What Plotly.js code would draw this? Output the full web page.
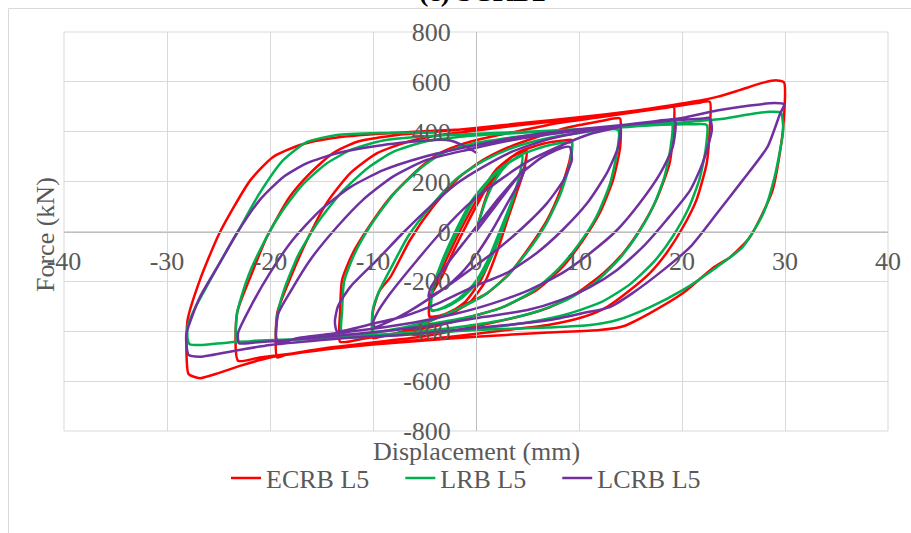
<!DOCTYPE html>
<html>
<head>
<meta charset="utf-8">
<script src="https://cdn.plot.ly/plotly-3.0.1.min.js"></script>
<style>html,body{margin:0;padding:0;background:#fff;}#chart{width:911px;height:533px;}</style>
</head>
<body>
<div id="chart"></div>
<script>
// ---- data (displacement mm, force kN) ----
const seriesNames = ['ECRB L5', 'LRB L5', 'LCRB L5'];

const ecrbPts = [
  [0,0],[1,140],[2,230],[3,285],[4,310],[4.9,320],
  [4.7,260],[3.9,150],[3.0,40],[2.0,-86],[0.9,-200],[-0.5,-280],[-2,-320],[-3.5,-338],[-4.5,-340],
  [-4.4,-260],[-3.5,-170],[-2.4,-70],[-1.2,30],[0.4,150],[2,250],[3.5,300],[4.9,325],
  [4.7,255],[3.8,140],[2.6,20],[1.6,-90],[0.4,-200],[-1,-280],[-2.6,-325],[-4.5,-342],
  [-4.4,-260],[-3.3,-180],[-2.2,-80],[-1.0,20],[0.4,130],[2,240],[4,315],[6.5,352],[8.5,365],[9.3,367],
  [9.1,287],[8.2,166],[6.9,46],[5.2,-62],[3.3,-166],[1.1,-247],[-1.6,-303],[-4.5,-360],[-7,-400],[-9.3,-422],[-10,-427],
  [-10,-320],[-9.4,-240],[-8.3,-182],[-6.4,-34],[-4.2,98],[-1.6,219],[0.7,287],[3,335],[6,380],[9,418],[12,442],[13.8,455],[14,452],
  [14,339],[13.3,206],[12,73],[10.4,-34],[8.4,-142],[5.9,-234],[2.6,-303],[-0.6,-343],[-4,-380],[-8,-410],[-11,-430],[-13.2,-442],
  [-13.2,-330],[-13,-194],[-12,-90],[-10.6,6],[-8.3,138],[-5.7,246],[-3.5,314],[-1,355],[2,385],[5,410],[8,435],[12,458],[16,482],[18.5,496],[19.2,500],
  [19.2,420],[18.8,274],[17.5,126],[15.9,6],[14.3,-86],[12.4,-166],[9.8,-247],[7.2,-303],[4,-343],[0,-380],[-5,-420],[-10,-445],[-15,-470],[-18.5,-495],[-19.3,-505],
  [-19.3,-327],[-18.1,-194],[-16.4,-34],[-14.5,114],[-12.2,234],[-9.6,314],[-6.7,359],[-3.5,387],[0,405],[5,430],[10,452],[15,477],[19,500],[21.5,515],[22.7,520],
  [22.7,420],[22.4,274],[21.4,126],[20.1,18],[18.5,-86],[16.9,-166],[15,-234],[12.7,-303],[10.4,-343],[7,-375],[3,-395],[-2,-420],[-8,-445],[-13,-465],[-18,-490],[-21,-505],[-23.1,-518],
  [-23.2,-327],[-21.9,-182],[-20.3,-22],[-18.1,138],[-16.1,234],[-13.9,314],[-11.6,359],[-8,385],[-4,400],[0,415],[5,437],[10,458],[15,482],[18,500],[21,520],[23.4,540],[25.6,567],[27.9,597],[29.2,606],[29.9,598],
  [29.8,407],[28.8,166],[26.6,-22],[24.7,-102],[23,-146],[20.1,-247],[16.9,-327],[14.3,-380],[12,-395],[7,-405],[0,-422],[-5,-437],[-10,-453],[-15,-475],[-20,-505],[-23,-540],[-25,-568],[-26.8,-588],[-27.9,-572],[-28.1,-500],
  [-28,-355],[-26.8,-194],[-24.9,-6],[-21.9,206],[-19.7,299],[-17.1,347],[-13.9,375],[-10,390],[-5,402],[0,412]
];

const lrbPts = [
  [0,0],[1,130],[2,215],[3,268],[4,298],[4.5,306],
  [4.3,240],[3.5,120],[2.5,0],[1.3,-120],[0,-210],[-1.5,-270],[-3,-305],[-4.3,-315],
  [-4.2,-230],[-3.2,-120],[-1.8,0],[-0.3,120],[1.5,215],[3,270],[4.5,303],
  [4.3,240],[3.5,125],[2.3,0],[1.1,-120],[-0.2,-210],[-1.7,-270],[-3.2,-305],[-4.3,-318],
  [-4.2,-230],[-3.3,-120],[-2,0],[-0.3,130],[2,240],[4.5,310],[7,345],[9.3,355],
  [9.1,270],[8.2,150],[6.8,30],[5,-80],[3,-180],[0.8,-255],[-2,-315],[-5,-365],[-8,-392],[-10,-400],
  [-10,-310],[-9.3,-230],[-8.3,-150],[-6.6,-20],[-4.4,100],[-1.8,215],[0.8,285],[3.5,335],[6.5,370],[10,395],[13.8,407],
  [13.7,320],[13,190],[11.7,60],[10,-50],[8,-150],[5.5,-240],[2.5,-305],[-1,-345],[-5,-375],[-9,-400],[-13,-410],
  [-13,-320],[-12.8,-200],[-11.8,-90],[-10.3,20],[-8,150],[-5.5,250],[-3.2,315],[0,355],[4,380],[8,398],[12,415],[16,428],[19,435],
  [18.9,340],[18.3,220],[17.2,100],[15.7,-10],[13.9,-110],[11.7,-200],[9,-270],[6,-320],[2,-360],[-3,-390],[-8,-410],[-13,-420],[-17,-428],[-19.3,-435],
  [-19.3,-340],[-18.6,-230],[-17.2,-90],[-15.3,40],[-13,160],[-10.5,255],[-8,320],[-5,360],[-1,382],[4,395],[9,407],[14,418],[18,428],[21,430],[22.4,427],
  [22.3,330],[21.7,210],[20.6,90],[19.1,-20],[17.3,-120],[15,-210],[12.3,-280],[9,-330],[5,-365],[0,-390],[-6,-410],[-12,-425],[-18,-433],[-21.5,-438],[-23.2,-442],
  [-23.2,-330],[-22.3,-200],[-20.8,-60],[-19,70],[-16.9,185],[-14.6,270],[-12,330],[-9,365],[-5,382],[0,392],[5,400],[10,410],[15,420],[20,437],[24,452],[26.6,470],[28.5,480],[29.6,477],
  [29.8,434],[29.8,395],[29.0,220],[27.9,73],[25.9,-62],[23.4,-142],[20.1,-234],[16.9,-303],[13.7,-355],[11.1,-375],[7,-385],[0,-395],[-5,-408],[-10,-420],[-15,-430],[-20,-437],[-24,-445],[-26.5,-455],[-27.8,-452],[-28,-430],
  [-28,-380],[-27.2,-300],[-26.5,-247],[-25.1,-142],[-23.2,-6],[-21,154],[-18.7,287],[-16.4,359],[-13.5,387],[-9,395],[-4,397]
];

const lcrbPts = [
  [0,0],[1.2,65],[2.4,130],[3.6,195],[4.8,259],
  [4.3,205],[3,110],[1.5,0],[0,-95],[-1.5,-170],[-3,-225],[-4.2,-255],[-4.6,-262],[-4.4,-225],
  [-3.5,-170],[-2.5,-114],[-1.2,-45],[0,18],[2.3,138],[4.3,230],[6.5,300],[8.3,335],[9.1,339],
  [9.3,287],[8.5,206],[6.9,114],[4.6,18],[2,-74],[-0.6,-154],[-3.5,-240],[-6.5,-320],[-8.5,-362],[-9.8,-383],[-10,-370],
  [-9.6,-327],[-8.3,-247],[-5.7,-114],[-3.2,6],[-0.6,114],[2.3,206],[5,280],[8,340],[11,390],[13.5,415],[14,419],
  [13.8,339],[12.7,234],[10.8,114],[8.4,6],[5.9,-86],[3,-166],[-0.3,-222],[-3.5,-285],[-7,-340],[-10,-370],[-12.5,-395],[-13.5,-401],
  [-13.7,-360],[-13.4,-300],[-12.2,-222],[-9.6,-114],[-7.1,-6],[-4.5,98],[-1.8,194],[0.7,259],[3.5,320],[7,370],[10.5,400],[14,425],[17,440],[19.3,447],
  [19.1,339],[17.9,234],[15.9,114],[13.7,6],[11.1,-86],[8.4,-166],[5.2,-234],[1.7,-287],[-2,-330],[-6,-365],[-10,-390],[-14,-410],[-17,-425],[-19.3,-442],
  [-19.2,-330],[-18.1,-247],[-16.1,-114],[-13.5,18],[-11,126],[-8.1,219],[-4.8,287],[-0.9,327],[4,370],[9,400],[14,425],[19,445],[22,453],[22.7,455],
  [22.9,407],[22,274],[20.8,166],[18.5,46],[16.2,-62],[13.7,-154],[11.1,-222],[8.2,-275],[5,-315],[0.7,-343],[-4,-375],[-9,-400],[-14,-420],[-19,-438],[-21.5,-445],[-23,-448],
  [-23.1,-407],[-21.9,-303],[-20,-166],[-17.8,-34],[-15.1,86],[-12.2,178],[-9,246],[-5.1,299],[-0.9,339],[5,385],[10,410],[15,430],[20,455],[23.4,485],[26.6,505],[29,515],[29.9,510],
  [29.5,470],[28.3,339],[25.9,206],[23.4,73],[20.8,-62],[18.2,-154],[15.2,-247],[13,-303],[10.4,-327],[7.2,-355],[3,-375],[-2,-395],[-7,-415],[-12,-425],[-15,-435],[-20,-455],[-23,-475],[-26.8,-502],[-27.9,-495],[-28.1,-460],
  [-28.1,-407],[-26.8,-263],[-25.1,-142],[-23.2,-6],[-21,126],[-18.7,219],[-16.4,274],[-13.5,314],[-9,347],[-4.2,367],[-2.5,365],[-1,340],[0.1,314]
];

const xTickVals = [-40,-30,-20,-10,0,10,20,30,40];
const xTickText = ['-40','-30','-20','-10','0','10','20','30','40'];
const yTickVals = [-800,-600,-400,-200,0,200,400,600,800];
const yTickText = ['-800','-600','-400','-200','0','200','400','600','800'];

// ---- styling ----
const colors = ['#ff0000', '#00b050', '#7030a0'];
const FONT = '"Liberation Serif", "Times New Roman", serif';
const GREY = '#595959';
const NB = '\u00a0';
// trailing no-break spaces widen the gap between legend entries, as in the reference
const legendPad = [NB.repeat(4), NB.repeat(4), ''];

const allPts = [ecrbPts, lrbPts, lcrbPts];
const traces = allPts.map((pts, i) => ({
  type: 'scatter',
  mode: 'lines',
  name: seriesNames[i] + legendPad[i],
  x: pts.map(p => p[0]),
  y: pts.map(p => p[1]),
  line: {color: colors[i], width: 2.5, shape: 'spline', smoothing: 0.6},
  hoverinfo: 'skip'
}));

// plot-area geometry (pixels) used to convert positions to paper units
const L = 64, R = 888, T = 32, B = 431;
const px2x = p => (p - L) / (R - L);
const py2y = p => (B - p) / (B - T);

const axisCommon = {
  showgrid: true, gridcolor: '#d9d9d9', gridwidth: 1,
  zeroline: false, showline: true, linecolor: '#bfbfbf', linewidth: 1,
  ticks: '', anchor: 'free', position: 0.5,
  tickfont: {family: FONT, size: 26, color: GREY},
  fixedrange: true
};

const layout = {
  width: 911, height: 533,
  margin: {l: L, r: 911 - R, t: T, b: 533 - B, pad: 0},
  paper_bgcolor: '#ffffff', plot_bgcolor: '#ffffff',
  font: {family: FONT, color: GREY},
  showlegend: true,
  legend: {
    orientation: 'h', x: px2x(466), xanchor: 'center', y: py2y(478), yanchor: 'middle',
    font: {family: FONT, size: 26, color: GREY}, itemwidth: 30, traceorder: 'normal'
  },
  xaxis: Object.assign({}, axisCommon, {
    range: [-40, 40], tickmode: 'array', tickvals: xTickVals, ticktext: xTickText,
    ticklabelstandoff: 6
  }),
  yaxis: Object.assign({}, axisCommon, {
    range: [-800, 800], tickmode: 'array', tickvals: yTickVals, ticktext: yTickText,
    ticklabelstandoff: 20
  }),
  shapes: [
    {type: 'rect', xref: 'paper', yref: 'paper', x0: 0, x1: 1, y0: 0, y1: 1,
     line: {color: '#d9d9d9', width: 1}, layer: 'below'},
    {type: 'rect', xref: 'paper', yref: 'paper', x0: px2x(8.5), x1: px2x(1000), y0: py2y(700), y1: py2y(8.5),
     line: {color: '#d9d9d9', width: 1}, layer: 'below'}
  ],
  annotations: [
    {text: '<b>(c) SCRB2</b>', xref: 'paper', yref: 'paper', x: px2x(482), y: py2y(9),
     xanchor: 'center', yanchor: 'bottom', showarrow: false,
     font: {family: FONT, size: 28, color: '#000000'}},
    {text: 'Displacement (mm)', xref: 'paper', yref: 'paper', x: px2x(476), y: py2y(451),
     xanchor: 'center', yanchor: 'middle', showarrow: false,
     font: {family: FONT, size: 26, color: GREY}},
    {text: 'Force (kN)', xref: 'paper', yref: 'paper', x: px2x(45), y: py2y(235),
     xanchor: 'center', yanchor: 'middle', textangle: -90, showarrow: false,
     font: {family: FONT, size: 26, color: GREY}}
  ]
};

Plotly.newPlot('chart', traces, layout, {staticPlot: true, displayModeBar: false});
</script>
</body>
</html>
